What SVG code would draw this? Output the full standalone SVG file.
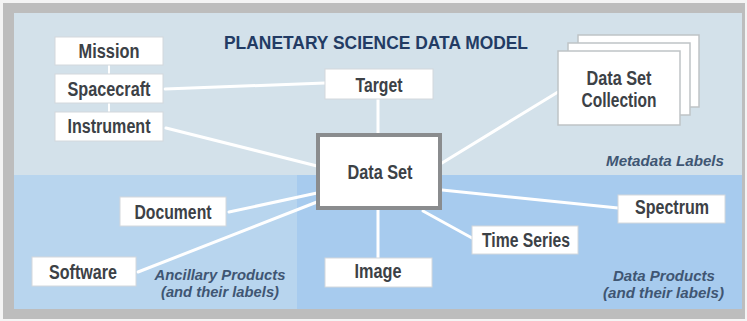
<svg xmlns="http://www.w3.org/2000/svg" width="747" height="321" viewBox="0 0 747 321">
<style>
.box{fill:#ffffff;stroke:#d3d8dc;stroke-width:1}
.card{fill:#ffffff;stroke:#bfc3c6;stroke-width:1.5}
.lbl{font-family:"Liberation Sans",Arial,sans-serif;font-weight:bold;font-size:20px;fill:#3c4146}
.cat{font-family:"Liberation Sans",Arial,sans-serif;font-weight:bold;font-style:italic;font-size:14px;fill:#3f5673}
.conn line{stroke:#ffffff;stroke-width:3;stroke-linecap:round}
</style>
<rect x="0" y="0" width="747" height="321" fill="#f4f4f4"/>
<rect x="3" y="3" width="742" height="316" fill="#bdbdbd"/>
<rect x="14" y="13" width="728" height="162" fill="#d3e1ea"/>
<rect x="14" y="175" width="283" height="134" fill="#b8d5ee"/>
<rect x="297" y="175" width="445" height="134" fill="#a7cbee"/>
<text x="376" y="49" text-anchor="middle" textLength="304" lengthAdjust="spacingAndGlyphs" style="font-family:'Liberation Sans',Arial,sans-serif;font-weight:bold;font-size:17.5px;fill:#223b64">PLANETARY SCIENCE DATA MODEL</text>
<g class="conn">
<line x1="109" y1="65" x2="109" y2="74" style="stroke-width:2"/>
<line x1="109" y1="103" x2="109" y2="112" style="stroke-width:2"/>
<line x1="165" y1="89" x2="325" y2="83"/>
<line x1="166" y1="128" x2="317" y2="166"/>
<line x1="378" y1="99" x2="378" y2="133"/>
<line x1="442" y1="163" x2="558" y2="92"/>
<line x1="229" y1="212" x2="317" y2="193"/>
<line x1="138" y1="272" x2="317" y2="202"/>
<line x1="378" y1="210" x2="378" y2="258"/>
<line x1="442" y1="190" x2="618" y2="208"/>
<line x1="423" y1="211" x2="472" y2="238"/>
</g>
<g id="mission"><rect class="box" x="55" y="37" width="108" height="28"/><text class="lbl" x="109" y="58" text-anchor="middle" textLength="61" lengthAdjust="spacingAndGlyphs">Mission</text></g>
<g id="spacecraft"><rect class="box" x="55" y="74" width="108" height="29"/><text class="lbl" x="109" y="96" text-anchor="middle" textLength="83" lengthAdjust="spacingAndGlyphs">Spacecraft</text></g>
<g id="instrument"><rect class="box" x="55" y="112" width="108" height="29"/><text class="lbl" x="109" y="133" text-anchor="middle" textLength="83" lengthAdjust="spacingAndGlyphs">Instrument</text></g>
<g id="target"><rect class="box" x="325" y="69" width="108" height="30"/><text class="lbl" x="379" y="92" text-anchor="middle" textLength="47" lengthAdjust="spacingAndGlyphs">Target</text></g>
<g id="dataset"><rect x="318" y="135" width="122" height="73" fill="#ffffff" stroke="#8a8c8e" stroke-width="4"/><text class="lbl" x="380" y="179" text-anchor="middle" textLength="65" lengthAdjust="spacingAndGlyphs">Data Set</text></g>
<g id="collection">
<rect class="card" x="578" y="35" width="121" height="72"/>
<rect class="card" x="568" y="43" width="122" height="72"/>
<rect class="card" x="558" y="51" width="122" height="74"/>
<text class="lbl" x="619" y="85" text-anchor="middle" textLength="65" lengthAdjust="spacingAndGlyphs">Data Set</text>
<text class="lbl" x="619" y="107" text-anchor="middle" textLength="75" lengthAdjust="spacingAndGlyphs">Collection</text>
</g>
<g id="document"><rect class="box" x="120" y="197" width="106" height="29"/><text class="lbl" x="173" y="219" text-anchor="middle" textLength="77" lengthAdjust="spacingAndGlyphs">Document</text></g>
<g id="software"><rect class="box" x="32" y="257" width="104" height="29"/><text class="lbl" x="83" y="279" text-anchor="middle" textLength="68" lengthAdjust="spacingAndGlyphs">Software</text></g>
<g id="image"><rect class="box" x="325" y="258" width="107" height="29"/><text class="lbl" x="378" y="278" text-anchor="middle" textLength="47" lengthAdjust="spacingAndGlyphs">Image</text></g>
<g id="timeseries"><rect class="box" x="472" y="226" width="106" height="28"/><text class="lbl" x="526" y="247" text-anchor="middle" textLength="88" lengthAdjust="spacingAndGlyphs">Time Series</text></g>
<g id="spectrum"><rect class="box" x="618" y="195" width="107" height="28"/><text class="lbl" x="672" y="214" text-anchor="middle" textLength="74" lengthAdjust="spacingAndGlyphs">Spectrum</text></g>
<text class="cat" x="724" y="166" text-anchor="end" textLength="118" lengthAdjust="spacingAndGlyphs">Metadata Labels</text>
<text class="cat" x="220" y="280" text-anchor="middle" textLength="131" lengthAdjust="spacingAndGlyphs">Ancillary Products</text>
<text class="cat" x="220" y="297" text-anchor="middle" textLength="118" lengthAdjust="spacingAndGlyphs">(and their labels)</text>
<text class="cat" x="715" y="281" text-anchor="end" textLength="102" lengthAdjust="spacingAndGlyphs">Data Products</text>
<text class="cat" x="724" y="298" text-anchor="end" textLength="121" lengthAdjust="spacingAndGlyphs">(and their labels)</text>
</svg>
